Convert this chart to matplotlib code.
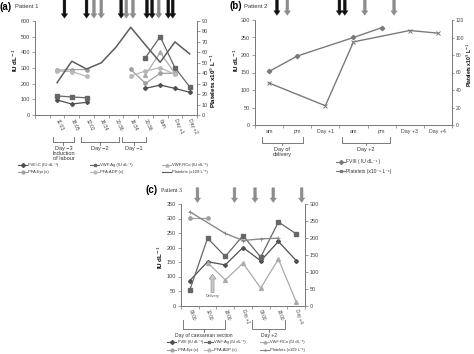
import numpy as np
import matplotlib.pyplot as plt
import matplotlib.transforms as mtransforms
from matplotlib.lines import Line2D

plt.rcParams['font.family'] = ['Liberation Sans', 'DejaVu Sans']

nan = np.nan
SUP = '\u207b\u00b9'

# (a) Patient 1
a_cats = ['', '11:03', '18:05', '12:02', '16:34', '20:36', '16:34', '20:36', '8am', 'Day +1', 'Day +2']
a_fviii = [nan, 96, 70, 81, nan, nan, nan, 170, 191, 170, 145]
a_vwfag = [nan, 122, 115, 110, nan, nan, nan, 366, 500, 302, 181]
a_vwfrco = [nan, nan, nan, nan, nan, nan, nan, 255, 400, 265, nan]
a_pfaepi = [nan, 286, 290, 290, nan, nan, 291, 202, 266, 266, nan]
a_pfaadp = [nan, 280, 277, 247, nan, nan, 249, 281, 302, 259, nan]
a_plt = [nan, 31, 51.5, 44, 50, 65, 84, 67, 50.5, 70, 58.5]
a_arrow_x = [1.5, 3.0, 3.5, 4.0, 5.35, 5.7, 6.15, 7.1, 7.45, 7.9, 8.55, 8.85]
a_arrow_c = ['k', 'k', 'g', 'g', 'k', 'g', 'g', 'k', 'k', 'g', 'k', 'k']

# (b) Patient 2
b_cats = ['am', 'pm', 'Day +1', 'am', 'pm', 'Day +3', 'Day +4']
b_fviii = [153, 197, nan, 250, 278, nan, nan]
b_plt = [48, nan, 22, 95, nan, 108, 105]
b_arrow_x = [0.28, 0.65, 2.5, 2.69, 3.4, 4.44]
b_arrow_c = ['k', 'g', 'k', 'k', 'g', 'g']

# (c) Patient 3
c_cats = ['09:00', '12:00', '18:00', 'Day +1', '09:00', '18:00', 'Day +4']
c_fviii = [86, 151, 140, 200, 154, 221, 155]
c_vwfag = [54, 232, 169, 241, 167, 288, 247]
c_vwfrco = [nan, 148, 88, 146, 60, 160, 13]
c_pfaepi = [301, 301, nan, nan, nan, nan, nan]
c_plt = [277, nan, 213, 192, 197, 199, nan]
c_arrow_x = [0.43, 2.52, 3.68, 4.71, 6.31]

W, H = 474, 354
fig = plt.figure(figsize=(W / 100, H / 100), dpi=100)


def box(l, r, t, b):
    return [l / W, 1 - b / H, (r - l) / W, (b - t) / H]


ax_a = fig.add_axes(box(35, 197, 21, 115))
ax_b = fig.add_axes(box(255, 452, 20, 125))
ax_c = fig.add_axes(box(181, 305, 204, 305.5))

st = dict(
    fviii=dict(color='#505050', marker='D', ms=2, lw=0.9),
    vwfag=dict(color='#676767', marker='s', ms=2.8, lw=0.9),
    vwfrco=dict(color='#ababab', marker='^', ms=2.8, lw=0.9),
    pfaepi=dict(color='#a0a0a0', marker='o', ms=2.4, lw=0.9),
    pfaadp=dict(color='#b8b8b8', marker='o', ms=2.4, lw=0.9),
    plt=dict(color='#5c5c5c', marker='', lw=1.1),
)


def style(ax, n, cats, rot, fs=3.6):
    ax.set_xlim(-0.5, n - 0.5)
    ax.set_xticks(range(n))
    if rot:
        ax.set_xticklabels(cats, rotation=rot, ha='left', va='center', rotation_mode='anchor', fontsize=fs, color='#444')
    else:
        ax.set_xticklabels(cats, fontsize=3.8, color='#444')
    ax.set_xticks(np.arange(-0.5, n), minor=True)
    ax.tick_params(axis='x', which='major', length=0, pad=3)
    ax.tick_params(axis='x', which='minor', length=2, width=0.5, color='#777')
    ax.tick_params(axis='y', labelsize=4, length=2, width=0.5, color='#777', labelcolor='#444', pad=1.5)
    for s in ax.spines.values():
        s.set_linewidth(0.6)
        s.set_color('#777')
    ax.spines['top'].set_visible(False)


def twin(ax, fs=4, ln=2, pad=1.5):
    a2 = ax.twinx()
    a2.tick_params(axis='y', labelsize=fs, length=ln, width=0.5, color='#777', labelcolor='#444', pad=pad)
    for s in a2.spines.values():
        s.set_linewidth(0.6)
        s.set_color('#777')
    a2.spines['top'].set_visible(False)
    return a2


def arrows(ax, xs, cols, y0, y1, w=2.0, hw=4.5, hl=3.2):
    for x, c in zip(xs, cols):
        fc = {'k': '#111111', 'g': '#8c8c8c'}[c]
        ax.annotate('', xy=(x, y1), xytext=(x, y0), xycoords=('data', 'axes fraction'),
                    textcoords=('data', 'axes fraction'), annotation_clip=False,
                    arrowprops=dict(width=w, headwidth=hw, headlength=hl, facecolor=fc, edgecolor=fc, lw=0.3))


def bracket(ax, x0, x1, y0, y1, y2, label, ty, ls=1.1, fs=4):
    tr = mtransforms.blended_transform_factory(ax.transData, ax.transAxes)
    xm = (x0 + x1) / 2
    ax.plot([x0, x0, x1, x1], [y0, y1, y1, y0], transform=tr, clip_on=False, color='#666', lw=0.6)
    ax.plot([xm, xm], [y1, y2], transform=tr, clip_on=False, color='#666', lw=0.6)
    ax.text(xm, ty, label, transform=tr, ha='center', va='top', fontsize=fs, color='#333', linespacing=ls)


def legend_items(items, pos, fs=3.0):
    for (lab, s), (x, y) in zip(items, pos):
        fig.add_artist(Line2D([x / W, (x + 9) / W], [1 - y / H, 1 - y / H], color=s['color'], lw=0.8))
        if s.get('marker'):
            fig.add_artist(Line2D([(x + 4.5) / W], [1 - y / H], color=s['color'], marker=s['marker'], ms=2.0, lw=0))
        fig.text((x + 10.5) / W, 1 - y / H, lab, fontsize=fs, va='center', color='#333')


# ---------- (a)
xa = np.arange(len(a_cats))
ax_a.plot(xa, a_fviii, **st['fviii'])
ax_a.plot(xa, a_vwfag, **st['vwfag'])
ax_a.plot(xa, a_vwfrco, **st['vwfrco'])
ax_a.plot(xa, a_pfaepi, **st['pfaepi'])
ax_a.plot(xa, a_pfaadp, **st['pfaadp'])
ax_a.set_ylim(0, 600)
ax_a.set_yticks(range(0, 601, 100))
style(ax_a, len(a_cats), a_cats, -65)
ax_a2 = twin(ax_a)
ax_a2.plot(xa, a_plt, **st['plt'])
ax_a2.set_ylim(0, 90)
ax_a2.set_yticks(range(0, 91, 10))
ax_a.set_ylabel('IU dL$^{-1}$', fontsize=4.5, fontweight='bold')
ax_a.yaxis.set_label_coords(-0.095, 0.58)
ax_a2.set_ylabel('Platelets x10$^{9}$ L$^{-1}$', fontsize=4.5, fontweight='bold')
ax_a2.yaxis.set_label_coords(1.075, 0.36)
arrows(ax_a, a_arrow_x, a_arrow_c, 1.225, 1.03)
bracket(ax_a, 0.7, 2.17, -0.234, -0.287, -0.319, 'Day \u22123\nInduction\nof labour', -0.33, ls=1.05)
bracket(ax_a, 2.63, 5.17, -0.234, -0.287, -0.319, 'Day \u22122', -0.33)
bracket(ax_a, 5.43, 7.03, -0.234, -0.287, -0.319, 'Day \u22121', -0.33)
fig.text(0 / W, 1 - 7 / H, '(a)', fontsize=7, fontweight='bold', va='center')
fig.text(15 / W, 1 - 7 / H, 'Patient 1', fontsize=4.2, va='center', color='#333')
legend_items([('FVIII:C (IU dL' + SUP + ')', st['fviii']), ('VWF:Ag (IU dL' + SUP + ')', st['vwfag']),
              ('VWF:RCo (IU dL' + SUP + ')', st['vwfrco']), ('PFA:Epi (s)', st['pfaepi']),
              ('PFA:ADP (s)', st['pfaadp']), ('Platelets (x109 L' + SUP + ')', st['plt'])],
             [(18, 165.5), (90, 165.5), (162, 165.5), (18, 171.5), (90, 171.5), (162, 171.5)], fs=3.0)

# ---------- (b)
xb = np.arange(len(b_cats))
bf = np.array(b_fviii, dtype=float)
bp = np.array(b_plt, dtype=float)
ax_b.plot(xb[~np.isnan(bf)], bf[~np.isnan(bf)], color='#7a7a7a', marker='D', ms=2.2, lw=1.0)
ax_b.set_ylim(0, 300)
ax_b.set_yticks(range(0, 301, 50))
style(ax_b, len(b_cats), b_cats, 0)
ax_b2 = twin(ax_b, fs=3.6, ln=1.5, pad=1)
ax_b2.plot(xb[~np.isnan(bp)], bp[~np.isnan(bp)], color='#7a7a7a', marker='x', ms=3, mew=0.7, lw=1.0)
ax_b2.set_ylim(0, 120)
ax_b2.set_yticks(range(0, 121, 20))
ax_b.set_ylabel('IU dL$^{-1}$', fontsize=4.5, fontweight='bold')
ax_b.yaxis.set_label_coords(-0.07, 0.62)
ax_b2.set_ylabel('Platelets x10$^{9}$ L$^{-1}$', fontsize=3.6, fontweight='bold')
ax_b2.yaxis.set_label_coords(1.062, 0.57)
arrows(ax_b, b_arrow_x, b_arrow_c, 1.19, 1.045)
bracket(ax_b, -0.26, 1.19, -0.117, -0.169, -0.19, 'Day of\ndelivery', -0.21)
bracket(ax_b, 2.6, 4.29, -0.117, -0.169, -0.19, 'Day +2', -0.21)
fig.text(229 / W, 1 - 6 / H, '(b)', fontsize=7, fontweight='bold', va='center')
fig.text(244 / W, 1 - 6 / H, 'Patient 2', fontsize=4.2, va='center', color='#333')
legend_items([('FVIII ( IU dL' + SUP + ' )', dict(color='#7a7a7a', marker='D')),
              ('Platelets (x10\u207b\u2079 L' + SUP + ')', dict(color='#7a7a7a', marker='x'))],
             [(336, 162), (336, 171)], fs=3.6)

# ---------- (c)
xc = np.arange(len(c_cats))
ax_c.plot(xc, c_fviii, **st['fviii'])
ax_c.plot(xc, c_vwfag, **st['vwfag'])
ax_c.plot(xc, c_vwfrco, **st['vwfrco'])
ax_c.plot(xc, c_pfaepi, **st['pfaepi'])
ax_c.set_ylim(0, 350)
ax_c.set_yticks(range(0, 351, 50))
style(ax_c, len(c_cats), c_cats, -72, fs=3.3)
ax_c2 = twin(ax_c)
cp = np.array(c_plt, dtype=float)
ax_c2.plot(xc[~np.isnan(cp)], cp[~np.isnan(cp)], color='#8a8a8a', marker='+', ms=3, mew=0.6, lw=1.0)
ax_c2.set_ylim(0, 300)
ax_c2.set_yticks(range(0, 301, 50))
ax_c.set_ylabel('IU dL$^{-1}$', fontsize=4.5, fontweight='bold')
ax_c.yaxis.set_label_coords(-0.13, 0.48)
arrows(ax_c, c_arrow_x, ['g'] * len(c_arrow_x), 1.16, 1.015)
ax_c.annotate('', xy=(1.28, 108), xytext=(1.28, 45), annotation_clip=False,
              arrowprops=dict(width=2.2, headwidth=5, headlength=3.5, facecolor='#c8c8c8', edgecolor='#888', lw=0.4))
ax_c.text(1.28, 33, 'Delivery', fontsize=2.8, ha='center', va='center', color='#555')
bracket(ax_c, -0.37, 1.99, -0.14, -0.232, -0.262, 'Day of caesarean section', -0.27, fs=3.6)
bracket(ax_c, 3.51, 5.37, -0.14, -0.232, -0.262, 'Day +2', -0.27, fs=3.6)
fig.text(146 / W, 1 - 190 / H, '(c)', fontsize=7, fontweight='bold', va='center')
fig.text(161 / W, 1 - 190 / H, 'Patient 3', fontsize=4.2, va='center', color='#333', family='Liberation Serif')
legend_items([('FVIII (IU dL' + SUP + ')', st['fviii']), ('VWF:Ag (IU dL' + SUP + ')', st['vwfag']),
              ('VWF:RCo (IU dL' + SUP + ')', st['vwfrco']), ('PFA:Epi (s)', st['pfaepi']),
              ('PFA:ADP (s)', st['pfaadp']), ('Platelets (x109 L' + SUP + ')', dict(color='#8a8a8a', marker='+'))],
             [(167, 341.5), (204, 341.5), (260, 341.5), (167, 349.5), (204, 349.5), (260, 349.5)], fs=2.9)

fig.savefig('out.png', dpi=100)
